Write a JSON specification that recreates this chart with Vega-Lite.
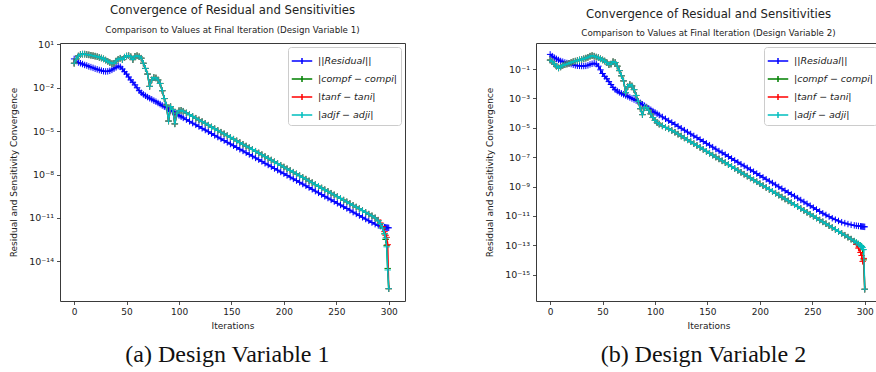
{
  "$schema": "https://vega.github.io/schema/vega-lite/v6.json",
  "padding": {"left": 9, "top": 4, "right": 0, "bottom": 0},
  "config": {
    "font": "DejaVu Sans",
    "view": {"stroke": "#3a3a3a", "strokeWidth": 1},
    "axis": {"domain": false, "grid": false, "ticks": true, "tickColor": "#222", "tickSize": 3.5, "tickWidth": 0.8, "labelFont": "DejaVu Sans", "labelFontSize": 9, "labelColor": "#222", "labelPadding": 3, "titleFont": "DejaVu Sans", "titleFontSize": 9, "titleFontWeight": "normal", "titleColor": "#222", "titlePadding": 5},
    "axisY": {"titlePadding": 10, "labelFontSize": 9.5},
    "legend": {"fillColor": "white", "strokeColor": "#cccccc", "cornerRadius": 3, "padding": 3, "labelFont": "DejaVu Sans", "labelFontStyle": "italic", "labelFontSize": 9.5, "labelColor": "#222", "symbolType": "M-1,0H1M0,-0.3V0.3", "symbolSize": 420, "symbolStrokeWidth": 1.5, "rowPadding": -2, "labelOffset": 5},
    "title": {"font": "DejaVu Sans", "fontSize": 11.7, "fontWeight": "normal", "color": "#222", "subtitleFont": "DejaVu Sans", "subtitleFontSize": 8.7, "subtitleColor": "#222", "subtitlePadding": 9, "offset": 5, "frame": "group", "anchor": "middle"}
  },
  "datasets": {
    "p1": [
      {"i":0,"R":1.0,"C":0.5,"T":0.5,"A":0.5},
      {"i":2,"R":0.71,"C":1.0,"T":1.0,"A":1.0},
      {"i":4,"R":0.56,"C":1.58,"T":1.58,"A":1.58},
      {"i":6,"R":0.5,"C":2.0,"T":2.0,"A":2.0},
      {"i":8,"R":0.44,"C":2.14,"T":2.14,"A":2.14},
      {"i":10,"R":0.38,"C":2.14,"T":2.14,"A":2.14},
      {"i":12,"R":0.35,"C":2.0,"T":2.0,"A":2.0},
      {"i":14,"R":0.30,"C":1.9,"T":1.9,"A":1.9},
      {"i":16,"R":0.27,"C":1.78,"T":1.78,"A":1.78},
      {"i":18,"R":0.24,"C":1.66,"T":1.66,"A":1.66},
      {"i":20,"R":0.21,"C":1.55,"T":1.55,"A":1.55},
      {"i":22,"R":0.19,"C":1.41,"T":1.41,"A":1.41},
      {"i":24,"R":0.17,"C":1.29,"T":1.29,"A":1.29},
      {"i":26,"R":0.155,"C":1.15,"T":1.15,"A":1.15},
      {"i":28,"R":0.14,"C":1.0,"T":1.0,"A":1.0},
      {"i":30,"R":0.135,"C":0.83,"T":0.83,"A":0.83},
      {"i":32,"R":0.138,"C":0.69,"T":0.69,"A":0.69},
      {"i":34,"R":0.15,"C":0.56,"T":0.56,"A":0.56},
      {"i":36,"R":0.174,"C":0.47,"T":0.47,"A":0.47},
      {"i":38,"R":0.21,"C":0.5,"T":0.5,"A":0.5},
      {"i":40,"R":0.26,"C":0.71,"T":0.71,"A":0.71},
      {"i":42,"R":0.32,"C":0.95,"T":0.95,"A":0.95},
      {"i":44,"R":0.28,"C":1.12,"T":1.12,"A":1.12},
      {"i":46,"R":0.2,"C":0.89,"T":0.89,"A":0.89},
      {"i":48,"R":0.13,"C":1.32,"T":1.32,"A":1.32},
      {"i":50,"R":0.089,"C":1.58,"T":1.58,"A":1.58},
      {"i":52,"R":0.056,"C":1.66,"T":1.66,"A":1.66},
      {"i":54,"R":0.035,"C":1.41,"T":1.41,"A":1.41},
      {"i":56,"R":0.024,"C":0.89,"T":0.89,"A":0.89},
      {"i":58,"R":0.016,"C":1.51,"T":1.51,"A":1.51},
      {"i":60,"R":0.01,"C":1.66,"T":1.66,"A":1.66},
      {"i":62,"R":0.0063,"C":1.41,"T":1.41,"A":1.41},
      {"i":64,"R":0.0045,"C":1.12,"T":1.12,"A":1.12},
      {"i":66,"R":0.0035,"C":0.5,"T":0.5,"A":0.5},
      {"i":68,"R":0.0028,"C":0.22,"T":0.22,"A":0.22},
      {"i":70,"R":0.0023,"C":0.089,"T":0.089,"A":0.089},
      {"i":72,"R":0.0019,"C":0.0126,"T":0.0126,"A":0.0126},
      {"i":74,"R":0.0016,"C":0.035,"T":0.035,"A":0.035},
      {"i":76,"R":0.0013,"C":0.052,"T":0.052,"A":0.052},
      {"i":78,"R":0.0011,"C":0.048,"T":0.048,"A":0.048},
      {"i":80,"R":8.9e-4,"C":0.035,"T":0.035,"A":0.035},
      {"i":82,"R":7.4e-4,"C":0.02,"T":0.02,"A":0.02},
      {"i":84,"R":6.0e-4,"C":0.0063,"T":0.0063,"A":0.0063},
      {"i":86,"R":5.0e-4,"C":0.0018,"T":0.0018,"A":0.0018},
      {"i":88,"R":4.2e-4,"C":6.3e-4,"T":6.3e-4,"A":6.3e-4},
      {"i":90,"R":3.4e-4,"C":5.0e-5,"T":5.0e-5,"A":5.0e-5},
      {"i":92,"R":2.75e-4,"C":5.0e-4,"T":5.0e-4,"A":5.0e-4},
      {"i":94,"R":2.24e-4,"C":3.2e-4,"T":3.2e-4,"A":3.2e-4},
      {"i":96,"R":1.86e-4,"C":3.2e-5,"T":3.2e-5,"A":3.2e-5},
      {"i":98,"R":1.5e-4,"C":1.78e-4,"T":1.78e-4,"A":1.78e-4},
      {"i":100,"R":1.23e-4,"C":2.6e-4,"T":2.6e-4,"A":2.6e-4},
      {"i":102,"R":1.0e-4,"C":2.8e-4,"T":2.8e-4,"A":2.8e-4},
      {"i":104,"R":8.3e-5,"C":2.4e-4,"T":2.4e-4,"A":2.4e-4},
      {"i":107,"R":6.3e-5,"C":1.82e-4,"T":1.82e-4,"A":1.82e-4},
      {"i":110,"R":4.8e-5,"C":1.38e-4,"T":1.38e-4,"A":1.38e-4},
      {"i":113,"R":3.6e-5,"C":1.05e-4,"T":1.05e-4,"A":1.05e-4},
      {"i":116,"R":2.75e-5,"C":7.9e-5,"T":7.9e-5,"A":7.9e-5},
      {"i":119,"R":2.1e-5,"C":6.0e-5,"T":6.0e-5,"A":6.0e-5},
      {"i":122,"R":1.58e-5,"C":4.6e-5,"T":4.6e-5,"A":4.6e-5},
      {"i":125,"R":1.2e-5,"C":3.5e-5,"T":3.5e-5,"A":3.5e-5},
      {"i":128,"R":9.1e-6,"C":2.6e-5,"T":2.6e-5,"A":2.6e-5},
      {"i":131,"R":6.8e-6,"C":1.95e-5,"T":1.95e-5,"A":1.95e-5},
      {"i":134,"R":5.1e-6,"C":1.48e-5,"T":1.48e-5,"A":1.48e-5},
      {"i":137,"R":3.9e-6,"C":1.12e-5,"T":1.12e-5,"A":1.12e-5},
      {"i":140,"R":2.95e-6,"C":8.5e-6,"T":8.5e-6,"A":8.5e-6},
      {"i":143,"R":2.24e-6,"C":6.5e-6,"T":6.5e-6,"A":6.5e-6},
      {"i":146,"R":1.7e-6,"C":4.9e-6,"T":4.9e-6,"A":4.9e-6},
      {"i":149,"R":1.29e-6,"C":3.7e-6,"T":3.7e-6,"A":3.7e-6},
      {"i":152,"R":9.8e-7,"C":2.8e-6,"T":2.8e-6,"A":2.8e-6},
      {"i":155,"R":7.4e-7,"C":2.14e-6,"T":2.14e-6,"A":2.14e-6},
      {"i":158,"R":5.6e-7,"C":1.62e-6,"T":1.62e-6,"A":1.62e-6},
      {"i":161,"R":4.3e-7,"C":1.23e-6,"T":1.23e-6,"A":1.23e-6},
      {"i":164,"R":3.2e-7,"C":9.3e-7,"T":9.3e-7,"A":9.3e-7},
      {"i":167,"R":2.45e-7,"C":7.1e-7,"T":7.1e-7,"A":7.1e-7},
      {"i":170,"R":1.86e-7,"C":5.4e-7,"T":5.4e-7,"A":5.4e-7},
      {"i":173,"R":1.41e-7,"C":4.1e-7,"T":4.1e-7,"A":4.1e-7},
      {"i":176,"R":1.07e-7,"C":3.1e-7,"T":3.1e-7,"A":3.1e-7},
      {"i":179,"R":8.1e-8,"C":2.35e-7,"T":2.35e-7,"A":2.35e-7},
      {"i":182,"R":6.0e-8,"C":1.74e-7,"T":1.74e-7,"A":1.74e-7},
      {"i":185,"R":4.6e-8,"C":1.32e-7,"T":1.32e-7,"A":1.32e-7},
      {"i":188,"R":3.5e-8,"C":1.0e-7,"T":1.0e-7,"A":1.0e-7},
      {"i":191,"R":2.6e-8,"C":7.6e-8,"T":7.6e-8,"A":7.6e-8},
      {"i":194,"R":2.0e-8,"C":5.75e-8,"T":5.75e-8,"A":5.75e-8},
      {"i":197,"R":1.5e-8,"C":4.4e-8,"T":4.4e-8,"A":4.4e-8},
      {"i":200,"R":1.15e-8,"C":3.3e-8,"T":3.3e-8,"A":3.3e-8},
      {"i":203,"R":8.7e-9,"C":2.5e-8,"T":2.5e-8,"A":2.5e-8},
      {"i":206,"R":6.6e-9,"C":1.9e-8,"T":1.9e-8,"A":1.9e-8},
      {"i":209,"R":5.0e-9,"C":1.45e-8,"T":1.45e-8,"A":1.45e-8},
      {"i":212,"R":3.8e-9,"C":1.1e-8,"T":1.1e-8,"A":1.1e-8},
      {"i":215,"R":2.9e-9,"C":8.3e-9,"T":8.3e-9,"A":8.3e-9},
      {"i":218,"R":2.2e-9,"C":6.3e-9,"T":6.3e-9,"A":6.3e-9},
      {"i":221,"R":1.66e-9,"C":4.8e-9,"T":4.8e-9,"A":4.8e-9},
      {"i":224,"R":1.26e-9,"C":3.6e-9,"T":3.6e-9,"A":3.6e-9},
      {"i":227,"R":9.5e-10,"C":2.75e-9,"T":2.75e-9,"A":2.75e-9},
      {"i":230,"R":7.1e-10,"C":2.0e-9,"T":2.0e-9,"A":2.0e-9},
      {"i":233,"R":5.4e-10,"C":1.55e-9,"T":1.55e-9,"A":1.55e-9},
      {"i":236,"R":4.1e-10,"C":1.17e-9,"T":1.17e-9,"A":1.17e-9},
      {"i":239,"R":3.1e-10,"C":8.9e-10,"T":8.9e-10,"A":8.9e-10},
      {"i":242,"R":2.35e-10,"C":6.8e-10,"T":6.8e-10,"A":6.8e-10},
      {"i":245,"R":1.78e-10,"C":5.1e-10,"T":5.1e-10,"A":5.1e-10},
      {"i":248,"R":1.35e-10,"C":3.9e-10,"T":3.9e-10,"A":3.9e-10},
      {"i":251,"R":1.02e-10,"C":2.95e-10,"T":2.95e-10,"A":2.95e-10},
      {"i":254,"R":7.8e-11,"C":2.24e-10,"T":2.24e-10,"A":2.24e-10},
      {"i":257,"R":5.9e-11,"C":1.7e-10,"T":1.7e-10,"A":1.7e-10},
      {"i":260,"R":4.5e-11,"C":1.29e-10,"T":1.29e-10,"A":1.29e-10},
      {"i":263,"R":3.4e-11,"C":9.8e-11,"T":9.8e-11,"A":9.8e-11},
      {"i":266,"R":2.5e-11,"C":7.4e-11,"T":7.4e-11,"A":7.4e-11},
      {"i":269,"R":1.9e-11,"C":5.6e-11,"T":5.6e-11,"A":5.6e-11},
      {"i":272,"R":1.45e-11,"C":4.3e-11,"T":4.3e-11,"A":4.3e-11},
      {"i":275,"R":1.1e-11,"C":3.2e-11,"T":3.2e-11,"A":3.2e-11},
      {"i":278,"R":8.3e-12,"C":2.4e-11,"T":2.4e-11,"A":2.4e-11},
      {"i":281,"R":6.3e-12,"C":1.82e-11,"T":1.82e-11,"A":1.82e-11},
      {"i":284,"R":4.8e-12,"C":1.38e-11,"T":1.38e-11,"A":1.38e-11},
      {"i":287,"R":3.7e-12,"C":1.0e-11,"T":1.0e-11,"A":1.0e-11},
      {"i":290,"R":3.0e-12,"C":6.3e-12,"T":7.1e-12,"A":6.3e-12},
      {"i":292,"R":2.7e-12,"C":4.0e-12,"T":4.5e-12,"A":4.0e-12},
      {"i":294,"R":2.45e-12,"C":2.0e-12,"T":2.5e-12,"A":2.0e-12},
      {"i":296,"R":2.3e-12,"C":7.9e-13,"T":1.12e-12,"A":7.9e-13},
      {"i":297,"R":2.2e-12,"C":3.2e-13,"T":6.3e-13,"A":4.0e-13},
      {"i":298,"R":2.14e-12,"C":1.26e-13,"T":4.5e-13,"A":1.0e-13},
      {"i":299,"R":2.1e-12,"C":3.2e-15,"T":1.4e-13,"A":2.5e-15},
      {"i":300,"R":2.05e-12,"C":1.26e-16,"T":1.26e-16,"A":1.26e-16}
    ],
    "p2": [
      {"i":0,"R":1.0,"C":0.41,"T":0.41,"A":0.41},
      {"i":2,"R":0.76,"C":0.32,"T":0.32,"A":0.32},
      {"i":4,"R":0.6,"C":0.22,"T":0.22,"A":0.22},
      {"i":6,"R":0.5,"C":0.158,"T":0.158,"A":0.158},
      {"i":8,"R":0.42,"C":0.12,"T":0.12,"A":0.12},
      {"i":10,"R":0.355,"C":0.14,"T":0.14,"A":0.14},
      {"i":12,"R":0.32,"C":0.178,"T":0.178,"A":0.178},
      {"i":14,"R":0.28,"C":0.2,"T":0.2,"A":0.2},
      {"i":16,"R":0.26,"C":0.22,"T":0.22,"A":0.22},
      {"i":18,"R":0.24,"C":0.25,"T":0.25,"A":0.25},
      {"i":20,"R":0.22,"C":0.28,"T":0.28,"A":0.28},
      {"i":22,"R":0.2,"C":0.32,"T":0.32,"A":0.32},
      {"i":24,"R":0.18,"C":0.35,"T":0.35,"A":0.35},
      {"i":26,"R":0.17,"C":0.38,"T":0.38,"A":0.38},
      {"i":28,"R":0.166,"C":0.42,"T":0.42,"A":0.42},
      {"i":30,"R":0.162,"C":0.46,"T":0.46,"A":0.46},
      {"i":32,"R":0.162,"C":0.5,"T":0.5,"A":0.5},
      {"i":34,"R":0.166,"C":0.56,"T":0.56,"A":0.56},
      {"i":36,"R":0.18,"C":0.63,"T":0.63,"A":0.63},
      {"i":38,"R":0.21,"C":0.76,"T":0.76,"A":0.76},
      {"i":40,"R":0.23,"C":0.83,"T":0.83,"A":0.83},
      {"i":42,"R":0.25,"C":0.76,"T":0.76,"A":0.76},
      {"i":44,"R":0.22,"C":0.66,"T":0.66,"A":0.66},
      {"i":46,"R":0.158,"C":0.6,"T":0.6,"A":0.6},
      {"i":48,"R":0.089,"C":0.5,"T":0.5,"A":0.5},
      {"i":50,"R":0.05,"C":0.42,"T":0.42,"A":0.42},
      {"i":52,"R":0.032,"C":0.355,"T":0.355,"A":0.355},
      {"i":54,"R":0.022,"C":0.28,"T":0.28,"A":0.28},
      {"i":56,"R":0.014,"C":0.2,"T":0.2,"A":0.2},
      {"i":58,"R":0.0089,"C":0.22,"T":0.22,"A":0.22},
      {"i":60,"R":0.0056,"C":0.32,"T":0.32,"A":0.32},
      {"i":62,"R":0.004,"C":0.28,"T":0.28,"A":0.28},
      {"i":64,"R":0.0032,"C":0.158,"T":0.158,"A":0.158},
      {"i":66,"R":0.0026,"C":0.079,"T":0.079,"A":0.079},
      {"i":68,"R":0.0022,"C":0.035,"T":0.035,"A":0.035},
      {"i":70,"R":0.0019,"C":0.0158,"T":0.0158,"A":0.0158},
      {"i":72,"R":0.0016,"C":0.0025,"T":0.0025,"A":0.0025},
      {"i":74,"R":0.00138,"C":0.0063,"T":0.0063,"A":0.0063},
      {"i":76,"R":0.00117,"C":0.0089,"T":0.0089,"A":0.0089},
      {"i":78,"R":0.001,"C":0.0071,"T":0.0071,"A":0.0071},
      {"i":80,"R":8.5e-4,"C":0.004,"T":0.004,"A":0.004},
      {"i":82,"R":7.2e-4,"C":0.0016,"T":0.0016,"A":0.0016},
      {"i":84,"R":6.2e-4,"C":6.3e-4,"T":6.3e-4,"A":6.3e-4},
      {"i":86,"R":5.0e-4,"C":2.0e-4,"T":2.0e-4,"A":2.0e-4},
      {"i":88,"R":4.0e-4,"C":7.9e-5,"T":7.9e-5,"A":7.9e-5},
      {"i":90,"R":3.2e-4,"C":2.5e-4,"T":2.5e-4,"A":2.5e-4},
      {"i":92,"R":2.6e-4,"C":2.4e-4,"T":2.4e-4,"A":2.4e-4},
      {"i":94,"R":2.1e-4,"C":1.58e-4,"T":1.58e-4,"A":1.58e-4},
      {"i":96,"R":1.7e-4,"C":8.9e-5,"T":8.9e-5,"A":8.9e-5},
      {"i":98,"R":1.38e-4,"C":5.0e-5,"T":5.0e-5,"A":5.0e-5},
      {"i":100,"R":1.12e-4,"C":3.2e-5,"T":3.2e-5,"A":3.2e-5},
      {"i":102,"R":9.1e-5,"C":2.24e-5,"T":2.24e-5,"A":2.24e-5},
      {"i":104,"R":7.4e-5,"C":1.78e-5,"T":1.78e-5,"A":1.78e-5},
      {"i":107,"R":5.5e-5,"C":1.35e-5,"T":1.35e-5,"A":1.35e-5},
      {"i":110,"R":4.1e-5,"C":1.07e-5,"T":1.07e-5,"A":1.07e-5},
      {"i":113,"R":3.0e-5,"C":8.5e-6,"T":8.5e-6,"A":8.5e-6},
      {"i":116,"R":2.3e-5,"C":6.6e-6,"T":6.6e-6,"A":6.6e-6},
      {"i":119,"R":1.7e-5,"C":5.0e-6,"T":5.0e-6,"A":5.0e-6},
      {"i":122,"R":1.26e-5,"C":3.7e-6,"T":3.7e-6,"A":3.7e-6},
      {"i":125,"R":9.3e-6,"C":2.75e-6,"T":2.75e-6,"A":2.75e-6},
      {"i":128,"R":6.9e-6,"C":2.04e-6,"T":2.04e-6,"A":2.04e-6},
      {"i":131,"R":5.1e-6,"C":1.51e-6,"T":1.51e-6,"A":1.51e-6},
      {"i":134,"R":3.8e-6,"C":1.12e-6,"T":1.12e-6,"A":1.12e-6},
      {"i":137,"R":2.8e-6,"C":8.3e-7,"T":8.3e-7,"A":8.3e-7},
      {"i":140,"R":2.14e-6,"C":6.2e-7,"T":6.2e-7,"A":6.2e-7},
      {"i":143,"R":1.58e-6,"C":4.6e-7,"T":4.6e-7,"A":4.6e-7},
      {"i":146,"R":1.17e-6,"C":3.4e-7,"T":3.4e-7,"A":3.4e-7},
      {"i":149,"R":8.7e-7,"C":2.5e-7,"T":2.5e-7,"A":2.5e-7},
      {"i":152,"R":6.5e-7,"C":1.86e-7,"T":1.86e-7,"A":1.86e-7},
      {"i":155,"R":4.8e-7,"C":1.38e-7,"T":1.38e-7,"A":1.38e-7},
      {"i":158,"R":3.55e-7,"C":1.02e-7,"T":1.02e-7,"A":1.02e-7},
      {"i":161,"R":2.6e-7,"C":7.6e-8,"T":7.6e-8,"A":7.6e-8},
      {"i":164,"R":2.0e-7,"C":5.6e-8,"T":5.6e-8,"A":5.6e-8},
      {"i":167,"R":1.48e-7,"C":4.2e-8,"T":4.2e-8,"A":4.2e-8},
      {"i":170,"R":1.1e-7,"C":3.1e-8,"T":3.1e-8,"A":3.1e-8},
      {"i":173,"R":8.1e-8,"C":2.3e-8,"T":2.3e-8,"A":2.3e-8},
      {"i":176,"R":6.0e-8,"C":1.7e-8,"T":1.7e-8,"A":1.7e-8},
      {"i":179,"R":4.5e-8,"C":1.26e-8,"T":1.26e-8,"A":1.26e-8},
      {"i":182,"R":3.3e-8,"C":9.3e-9,"T":9.3e-9,"A":9.3e-9},
      {"i":185,"R":2.5e-8,"C":6.9e-9,"T":6.9e-9,"A":6.9e-9},
      {"i":188,"R":1.86e-8,"C":5.1e-9,"T":5.1e-9,"A":5.1e-9},
      {"i":191,"R":1.38e-8,"C":3.8e-9,"T":3.8e-9,"A":3.8e-9},
      {"i":194,"R":1.02e-8,"C":2.8e-9,"T":2.8e-9,"A":2.8e-9},
      {"i":197,"R":7.6e-9,"C":2.1e-9,"T":2.1e-9,"A":2.1e-9},
      {"i":200,"R":5.6e-9,"C":1.55e-9,"T":1.55e-9,"A":1.55e-9},
      {"i":203,"R":4.2e-9,"C":1.15e-9,"T":1.15e-9,"A":1.15e-9},
      {"i":206,"R":3.1e-9,"C":8.5e-10,"T":8.5e-10,"A":8.5e-10},
      {"i":209,"R":2.3e-9,"C":6.3e-10,"T":6.3e-10,"A":6.3e-10},
      {"i":212,"R":1.74e-9,"C":4.7e-10,"T":4.7e-10,"A":4.7e-10},
      {"i":215,"R":1.29e-9,"C":3.5e-10,"T":3.5e-10,"A":3.5e-10},
      {"i":218,"R":9.5e-10,"C":2.6e-10,"T":2.6e-10,"A":2.6e-10},
      {"i":221,"R":7.1e-10,"C":1.9e-10,"T":1.9e-10,"A":1.9e-10},
      {"i":224,"R":5.2e-10,"C":1.41e-10,"T":1.41e-10,"A":1.41e-10},
      {"i":227,"R":3.9e-10,"C":1.05e-10,"T":1.05e-10,"A":1.05e-10},
      {"i":230,"R":2.9e-10,"C":7.8e-11,"T":7.8e-11,"A":7.8e-11},
      {"i":233,"R":2.2e-10,"C":5.75e-11,"T":5.75e-11,"A":5.75e-11},
      {"i":236,"R":1.62e-10,"C":4.3e-11,"T":4.3e-11,"A":4.3e-11},
      {"i":239,"R":1.2e-10,"C":3.2e-11,"T":3.2e-11,"A":3.2e-11},
      {"i":242,"R":8.9e-11,"C":2.35e-11,"T":2.35e-11,"A":2.35e-11},
      {"i":245,"R":6.6e-11,"C":1.74e-11,"T":1.74e-11,"A":1.74e-11},
      {"i":248,"R":4.9e-11,"C":1.29e-11,"T":1.29e-11,"A":1.29e-11},
      {"i":251,"R":3.6e-11,"C":9.5e-12,"T":9.5e-12,"A":9.5e-12},
      {"i":254,"R":2.7e-11,"C":7.1e-12,"T":7.1e-12,"A":7.1e-12},
      {"i":257,"R":2.0e-11,"C":5.2e-12,"T":5.2e-12,"A":5.2e-12},
      {"i":260,"R":1.5e-11,"C":3.9e-12,"T":3.9e-12,"A":3.9e-12},
      {"i":263,"R":1.15e-11,"C":2.9e-12,"T":2.9e-12,"A":2.9e-12},
      {"i":266,"R":8.9e-12,"C":2.14e-12,"T":2.14e-12,"A":2.14e-12},
      {"i":269,"R":6.9e-12,"C":1.58e-12,"T":1.58e-12,"A":1.58e-12},
      {"i":272,"R":5.5e-12,"C":1.17e-12,"T":1.17e-12,"A":1.17e-12},
      {"i":275,"R":4.5e-12,"C":8.7e-13,"T":8.7e-13,"A":8.7e-13},
      {"i":278,"R":3.7e-12,"C":6.5e-13,"T":6.5e-13,"A":6.5e-13},
      {"i":281,"R":3.2e-12,"C":4.8e-13,"T":4.8e-13,"A":4.8e-13},
      {"i":284,"R":2.75e-12,"C":3.55e-13,"T":3.55e-13,"A":3.55e-13},
      {"i":287,"R":2.45e-12,"C":2.6e-13,"T":2.6e-13,"A":2.6e-13},
      {"i":290,"R":2.24e-12,"C":1.9e-13,"T":1.78e-13,"A":1.9e-13},
      {"i":292,"R":2.14e-12,"C":1.51e-13,"T":1.12e-13,"A":1.51e-13},
      {"i":294,"R":2.04e-12,"C":1.2e-13,"T":6.3e-14,"A":1.2e-13},
      {"i":296,"R":1.95e-12,"C":9.5e-14,"T":3.2e-14,"A":9.5e-14},
      {"i":297,"R":1.9e-12,"C":8.3e-14,"T":2.0e-14,"A":8.3e-14},
      {"i":298,"R":1.86e-12,"C":5.0e-14,"T":7.9e-15,"A":7.1e-14},
      {"i":299,"R":1.82e-12,"C":1.0e-14,"T":1.26e-14,"A":5.0e-14},
      {"i":300,"R":1.78e-12,"C":1.0e-16,"T":1.0e-16,"A":1.0e-16}
    ]
  },
  "resolve": {"scale": {"color": "independent", "x": "independent", "y": "independent"}, "legend": {"color": "independent"}},
  "spacing": 79,
  "hconcat": [
    {
      "title": {"text": "(a) Design Variable 1", "orient": "bottom", "font": "Liberation Serif", "fontSize": 24, "fontWeight": "normal", "color": "#111", "offset": 12, "frame": "bounds", "dx": 20},
      "resolve": {"scale": {"color": "independent"}, "legend": {"color": "independent"}},
      "vconcat": [
        {
          "width": 345,
          "height": 258,
          "title": {"text": "Convergence of Residual and Sensitivities", "subtitle": "Comparison to Values at Final Iteration (Design Variable 1)"},
          "data": {"name": "p1"},
          "encoding": {
            "x": {"field": "i", "type": "quantitative", "scale": {"domain": [-13.5, 315.5], "nice": false, "zero": false}, "axis": {"title": "Iterations", "values": [0, 50, 100, 150, 200, 250, 300]}}
          },
          "layer": [
            {
              "mark": {"type": "line", "strokeWidth": 1.5, "point": {"filled": false, "shape": "M-1,0H1M0,-1V1", "size": 42, "strokeWidth": 1}},
              "encoding": {
                "y": {"field": "R", "type": "quantitative", "scale": {"type": "log", "domain": [1.78e-17, 12.6], "nice": false}, "axis": {"title": "Residual and Sensitivity Convergence", "values": [10, 0.01, 1e-5, 1e-8, 1e-11, 1e-14], "labelExpr": "datum.value > 1 ? '10¹' : datum.value > 1e-3 ? '10⁻²' : datum.value > 1e-6 ? '10⁻⁵' : datum.value > 1e-9 ? '10⁻⁸' : datum.value > 1e-12 ? '10⁻¹¹' : '10⁻¹⁴'"}},
                "color": {"datum": "||Residual||", "type": "nominal", "scale": {"domain": ["||Residual||", "|compf − compi|", "|tanf − tani|", "|adjf − adji|"], "range": ["#0000ff", "#008000", "#ff0000", "#00bfbf"]}, "legend": {"title": null, "orient": "top-right", "offset": 4}}
              }
            },
            {
              "mark": {"type": "line", "strokeWidth": 1.5, "point": {"filled": false, "shape": "M-1,0H1M0,-1V1", "size": 42, "strokeWidth": 1}},
              "encoding": {
                "y": {"field": "C", "type": "quantitative", "scale": {"type": "log", "domain": [1.78e-17, 12.6], "nice": false}, "axis": {"title": "Residual and Sensitivity Convergence", "values": [10, 0.01, 1e-5, 1e-8, 1e-11, 1e-14], "labelExpr": "datum.value > 1 ? '10¹' : datum.value > 1e-3 ? '10⁻²' : datum.value > 1e-6 ? '10⁻⁵' : datum.value > 1e-9 ? '10⁻⁸' : datum.value > 1e-12 ? '10⁻¹¹' : '10⁻¹⁴'"}},
                "color": {"datum": "|compf − compi|", "type": "nominal"}
              }
            },
            {
              "mark": {"type": "line", "strokeWidth": 1.5, "point": {"filled": false, "shape": "M-1,0H1M0,-1V1", "size": 42, "strokeWidth": 1}},
              "encoding": {
                "y": {"field": "T", "type": "quantitative", "scale": {"type": "log", "domain": [1.78e-17, 12.6], "nice": false}, "axis": {"title": "Residual and Sensitivity Convergence", "values": [10, 0.01, 1e-5, 1e-8, 1e-11, 1e-14], "labelExpr": "datum.value > 1 ? '10¹' : datum.value > 1e-3 ? '10⁻²' : datum.value > 1e-6 ? '10⁻⁵' : datum.value > 1e-9 ? '10⁻⁸' : datum.value > 1e-12 ? '10⁻¹¹' : '10⁻¹⁴'"}},
                "color": {"datum": "|tanf − tani|", "type": "nominal"}
              }
            },
            {
              "mark": {"type": "line", "strokeWidth": 1.5, "point": {"filled": false, "shape": "M-1,0H1M0,-1V1", "size": 42, "strokeWidth": 1}},
              "encoding": {
                "y": {"field": "A", "type": "quantitative", "scale": {"type": "log", "domain": [1.78e-17, 12.6], "nice": false}, "axis": {"title": "Residual and Sensitivity Convergence", "values": [10, 0.01, 1e-5, 1e-8, 1e-11, 1e-14], "labelExpr": "datum.value > 1 ? '10¹' : datum.value > 1e-3 ? '10⁻²' : datum.value > 1e-6 ? '10⁻⁵' : datum.value > 1e-9 ? '10⁻⁸' : datum.value > 1e-12 ? '10⁻¹¹' : '10⁻¹⁴'"}},
                "color": {"datum": "|adjf − adji|", "type": "nominal"}
              }
            }
          ]
        }
      ]
    },
    {
      "title": {"text": "(b) Design Variable 2", "orient": "bottom", "font": "Liberation Serif", "fontSize": 24, "fontWeight": "normal", "color": "#111", "offset": 12, "frame": "bounds", "dx": 20},
      "resolve": {"scale": {"color": "independent"}, "legend": {"color": "independent"}},
      "vconcat": [
        {
          "width": 345,
          "height": 258,
          "title": {"text": "Convergence of Residual and Sensitivities", "subtitle": "Comparison to Values at Final Iteration (Design Variable 2)"},
          "data": {"name": "p2"},
          "encoding": {
            "x": {"field": "i", "type": "quantitative", "scale": {"domain": [-13.5, 315.5], "nice": false, "zero": false}, "axis": {"title": "Iterations", "values": [0, 50, 100, 150, 200, 250, 300]}}
          },
          "layer": [
            {
              "mark": {"type": "line", "strokeWidth": 1.5, "point": {"filled": false, "shape": "M-1,0H1M0,-1V1", "size": 42, "strokeWidth": 1}},
              "encoding": {
                "y": {"field": "R", "type": "quantitative", "scale": {"type": "log", "domain": [1.58e-17, 6.0], "nice": false}, "axis": {"title": "Residual and Sensitivity Convergence", "values": [0.1, 1e-3, 1e-5, 1e-7, 1e-9, 1e-11, 1e-13, 1e-15], "labelExpr": "datum.value > 0.01 ? '10⁻¹' : datum.value > 1e-4 ? '10⁻³' : datum.value > 1e-6 ? '10⁻⁵' : datum.value > 1e-8 ? '10⁻⁷' : datum.value > 1e-10 ? '10⁻⁹' : datum.value > 1e-12 ? '10⁻¹¹' : datum.value > 1e-14 ? '10⁻¹³' : '10⁻¹⁵'"}},
                "color": {"datum": "||Residual||", "type": "nominal", "scale": {"domain": ["||Residual||", "|compf − compi|", "|tanf − tani|", "|adjf − adji|"], "range": ["#0000ff", "#008000", "#ff0000", "#00bfbf"]}, "legend": {"title": null, "orient": "top-right", "offset": 4}}
              }
            },
            {
              "mark": {"type": "line", "strokeWidth": 1.5, "point": {"filled": false, "shape": "M-1,0H1M0,-1V1", "size": 42, "strokeWidth": 1}},
              "encoding": {
                "y": {"field": "C", "type": "quantitative", "scale": {"type": "log", "domain": [1.58e-17, 6.0], "nice": false}, "axis": {"title": "Residual and Sensitivity Convergence", "values": [0.1, 1e-3, 1e-5, 1e-7, 1e-9, 1e-11, 1e-13, 1e-15], "labelExpr": "datum.value > 0.01 ? '10⁻¹' : datum.value > 1e-4 ? '10⁻³' : datum.value > 1e-6 ? '10⁻⁵' : datum.value > 1e-8 ? '10⁻⁷' : datum.value > 1e-10 ? '10⁻⁹' : datum.value > 1e-12 ? '10⁻¹¹' : datum.value > 1e-14 ? '10⁻¹³' : '10⁻¹⁵'"}},
                "color": {"datum": "|compf − compi|", "type": "nominal"}
              }
            },
            {
              "mark": {"type": "line", "strokeWidth": 1.5, "point": {"filled": false, "shape": "M-1,0H1M0,-1V1", "size": 42, "strokeWidth": 1}},
              "encoding": {
                "y": {"field": "T", "type": "quantitative", "scale": {"type": "log", "domain": [1.58e-17, 6.0], "nice": false}, "axis": {"title": "Residual and Sensitivity Convergence", "values": [0.1, 1e-3, 1e-5, 1e-7, 1e-9, 1e-11, 1e-13, 1e-15], "labelExpr": "datum.value > 0.01 ? '10⁻¹' : datum.value > 1e-4 ? '10⁻³' : datum.value > 1e-6 ? '10⁻⁵' : datum.value > 1e-8 ? '10⁻⁷' : datum.value > 1e-10 ? '10⁻⁹' : datum.value > 1e-12 ? '10⁻¹¹' : datum.value > 1e-14 ? '10⁻¹³' : '10⁻¹⁵'"}},
                "color": {"datum": "|tanf − tani|", "type": "nominal"}
              }
            },
            {
              "mark": {"type": "line", "strokeWidth": 1.5, "point": {"filled": false, "shape": "M-1,0H1M0,-1V1", "size": 42, "strokeWidth": 1}},
              "encoding": {
                "y": {"field": "A", "type": "quantitative", "scale": {"type": "log", "domain": [1.58e-17, 6.0], "nice": false}, "axis": {"title": "Residual and Sensitivity Convergence", "values": [0.1, 1e-3, 1e-5, 1e-7, 1e-9, 1e-11, 1e-13, 1e-15], "labelExpr": "datum.value > 0.01 ? '10⁻¹' : datum.value > 1e-4 ? '10⁻³' : datum.value > 1e-6 ? '10⁻⁵' : datum.value > 1e-8 ? '10⁻⁷' : datum.value > 1e-10 ? '10⁻⁹' : datum.value > 1e-12 ? '10⁻¹¹' : datum.value > 1e-14 ? '10⁻¹³' : '10⁻¹⁵'"}},
                "color": {"datum": "|adjf − adji|", "type": "nominal"}
              }
            }
          ]
        }
      ]
    }
  ]
}
